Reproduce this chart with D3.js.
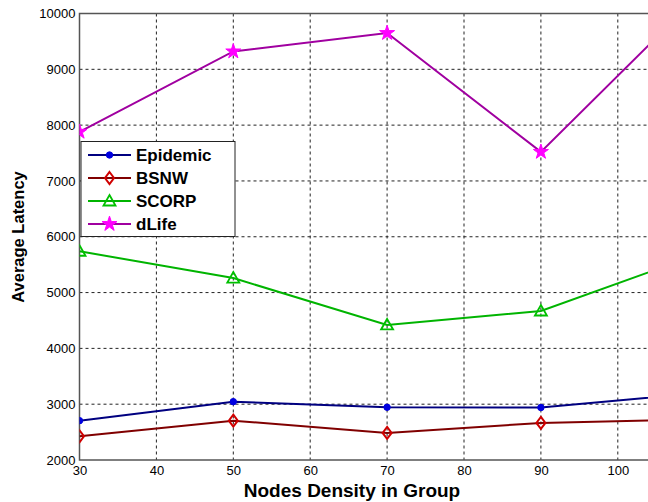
<!DOCTYPE html>
<html>
<head>
<meta charset="utf-8">
<script src="https://cdn.jsdelivr.net/npm/d3@7"></script>
<style>
  body { margin: 0; background: #fff; }
  svg { display: block; font-family: Arial, "Liberation Sans", sans-serif; }
</style>
</head>
<body>
<div id="chart"></div>
<script>
const nodes = [30, 50, 70, 90, 110];
const epidemic = [2705, 3045, 2945, 2940, 3190];
const bsnw = [2425, 2705, 2485, 2665, 2725];
const scorp = [5740, 5260, 4420, 4670, 5660];
const dlife = [7880, 9320, 9650, 7520, 10250];
const xTicks = [30, 40, 50, 60, 70, 80, 90, 100];
const yTicks = [2000, 3000, 4000, 5000, 6000, 7000, 8000, 9000, 10000];

const series = [
  { name: "Epidemic", values: epidemic, line: "#000080", mark: "#0000e0", shape: "dot" },
  { name: "BSNW", values: bsnw, line: "#800000", mark: "#d00000", shape: "diamond" },
  { name: "SCORP", values: scorp, line: "#00b400", mark: "#00c000", shape: "triangle" },
  { name: "dLife", values: dlife, line: "#a000a0", mark: "#ff00ff", shape: "star" }
];

const W = 648, H = 502;
const margin = { top: 13.5, left: 79.5 };
const plotW = 615.2, plotH = 446.5; // x 30..110, y 2000..10000

const x = d3.scaleLinear().domain([30, 110]).range([0, plotW]);
const y = d3.scaleLinear().domain([2000, 10000]).range([plotH, 0]);

const svg = d3.select("#chart").append("svg")
  .attr("width", W).attr("height", H);

const g = svg.append("g")
  .attr("transform", `translate(${margin.left},${margin.top})`);

g.append("clipPath").attr("id", "clip")
  .append("rect").attr("width", plotW).attr("height", plotH);

// grid
g.append("g").selectAll("line")
  .data(xTicks.slice(1))
  .join("line")
  .attr("x1", d => x(d)).attr("x2", d => x(d))
  .attr("y1", 0).attr("y2", plotH)
  .attr("stroke", "#222").attr("stroke-width", 1)
  .attr("stroke-dasharray", "3,3");

g.append("g").selectAll("line")
  .data(yTicks.slice(1, -1))
  .join("line")
  .attr("x1", 0).attr("x2", plotW)
  .attr("y1", d => y(d)).attr("y2", d => y(d))
  .attr("stroke", "#222").attr("stroke-width", 1)
  .attr("stroke-dasharray", "3,3");

// frame
g.append("rect")
  .attr("width", plotW).attr("height", plotH)
  .attr("fill", "none").attr("stroke", "#555").attr("stroke-width", 1.5);

// axes
const xAxis = d3.axisBottom(x).tickValues(xTicks).tickFormat(d3.format("d"))
  .tickSize(0).tickPadding(6);
g.append("g").attr("transform", `translate(0,${plotH})`).call(xAxis)
  .call(s => s.select(".domain").remove())
  .selectAll("text").attr("font-size", 13).attr("fill", "#000")
  .attr("font-family", "Arial, 'Liberation Sans', sans-serif");

const yAxis = d3.axisLeft(y).tickValues(yTicks).tickFormat(d3.format("d"))
  .tickSize(0).tickPadding(4);
g.append("g").call(yAxis)
  .call(s => s.select(".domain").remove())
  .selectAll("text").attr("font-size", 13).attr("fill", "#000")
  .attr("font-family", "Arial, 'Liberation Sans', sans-serif");

// markers
const symStar = d3.symbol().type(d3.symbolStar).size(70);
function drawMarker(sel, shape, color) {
  if (shape === "dot") {
    sel.append("circle").attr("r", 3.2).attr("fill", color).attr("stroke", color);
  } else if (shape === "diamond") {
    sel.append("path").attr("d", "M0,-6L4.5,0L0,6L-4.5,0Z")
      .attr("fill", "none").attr("stroke", color).attr("stroke-width", 2);
  } else if (shape === "triangle") {
    sel.append("path").attr("d", "M0,-6L6,4.5L-6,4.5Z")
      .attr("fill", "none").attr("stroke", color).attr("stroke-width", 1.8);
  } else {
    sel.append("path").attr("d", symStar()).attr("fill", color).attr("stroke", color);
  }
}

const line = d3.line().x((d, i) => x(nodes[i])).y(d => y(d));
const plot = g.append("g").attr("clip-path", "url(#clip)");

series.forEach(s => {
  plot.append("path").datum(s.values)
    .attr("d", line)
    .attr("fill", "none").attr("stroke", s.line).attr("stroke-width", 2);
  s.values.forEach((v, i) => {
    const m = plot.append("g").attr("transform", `translate(${x(nodes[i])},${y(v)})`);
    drawMarker(m, s.shape, s.mark);
  });
});

// legend
const leg = g.append("g").attr("transform", "translate(1.5,128)");
leg.append("rect").attr("width", 154).attr("height", 95)
  .attr("fill", "#fff").attr("stroke", "#222").attr("stroke-width", 1);
series.forEach((s, i) => {
  const yy = 13.5 + i * 23;
  leg.append("line").attr("x1", 7).attr("x2", 50).attr("y1", yy).attr("y2", yy)
    .attr("stroke", s.line).attr("stroke-width", 2);
  const m = leg.append("g").attr("transform", `translate(28.5,${yy})`);
  drawMarker(m, s.shape, s.mark);
  leg.append("text").attr("x", 55).attr("y", yy).attr("dy", "0.36em")
    .attr("font-size", 17).attr("font-weight", "bold").attr("fill", "#000")
    .text(s.name);
});

// axis titles
svg.append("text")
  .attr("x", 352).attr("y", 497)
  .attr("text-anchor", "middle").attr("font-size", 19).attr("font-weight", "bold")
  .text("Nodes Density in Group");

svg.append("text")
  .attr("transform", "translate(24,237) rotate(-90)")
  .attr("text-anchor", "middle").attr("font-size", 16.5).attr("font-weight", "bold")
  .text("Average Latency");
</script>
</body>
</html>
